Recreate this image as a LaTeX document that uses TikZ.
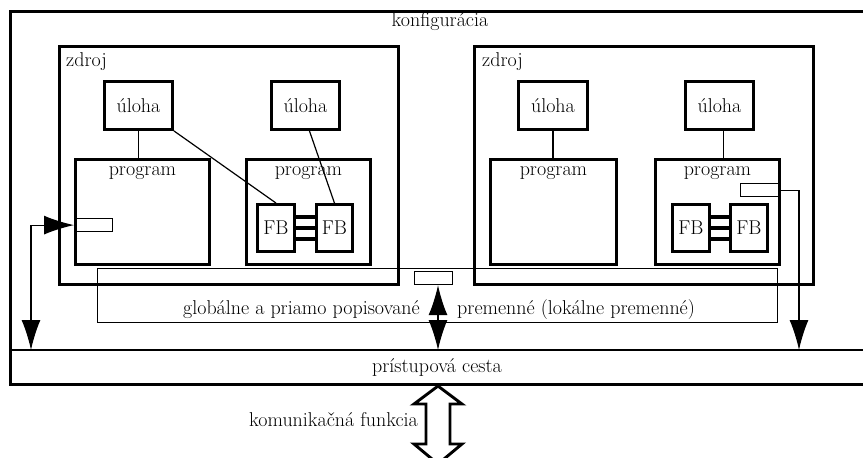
\documentclass[tikz,border=0pt]{standalone}
\usepackage{fontspec}
\usetikzlibrary{arrows.meta,calc}
\tikzset{
  txt/.style={font=\fontsize{20}{24}\selectfont, inner sep=0pt},
  bx/.style={draw, line width=2.9pt, inner sep=0pt, anchor=north west, font=\fontsize{20}{24}\selectfont},
  sbx/.style={draw, line width=1.2pt, inner sep=0pt, anchor=north west},
  ln/.style={line width=1.2pt},
  fbbar/.style={line width=3.4pt},
  arr/.style={line width=1.2pt, -{Latex[length=30pt,width=19pt]}},
  darr/.style={line width=1.2pt, {Latex[length=30pt,width=19pt]}-{Latex[length=30pt,width=19pt]}},
}
\begin{document}
\begin{tikzpicture}[x=1pt,y=-1pt]
\clip (0,0) rectangle (863,458);
% outer configuration
\node[bx, minimum width=870pt, minimum height=373pt] (konf) at (9,10) {};
\node[txt] (konft) at (440,22) {konfigurácia};
% access path
\coordinate (accL) at (9,350);
\coordinate (accR) at (875,350);
\draw[ln] (accL) -- (accR);
\node[txt] (acct) at (437,367) {prístupová cesta};
% global variables box
\node[sbx, minimum width=680pt, minimum height=54pt] (glob) at (97,268) {};
\node[txt, anchor=east] (g1) at (420,310) {globálne a priamo popisované};
\node[txt, anchor=west] (g2) at (457,310) {premenné (lokálne premenné)};
% resources
\node[bx, minimum width=339pt, minimum height=238pt] (z1) at (58,45) {};
\node[bx, minimum width=339pt, minimum height=238pt] (z2) at (473,45) {};
\node[txt, anchor=west] (z1t) at (66,62) {zdroj};
\node[txt, anchor=west] (z2t) at (482,62) {zdroj};
% tasks
\node[bx, minimum width=68pt, minimum height=48pt] (u1) at (103,80) {úloha};
\node[bx, minimum width=68pt, minimum height=48pt] (u2) at (270,80) {úloha};
\node[bx, minimum width=69pt, minimum height=48pt] (u3) at (517,80) {úloha};
\node[bx, minimum width=68pt, minimum height=48pt] (u4) at (684,80) {úloha};
% programs
\node[bx, minimum width=134pt, minimum height=105pt] (p1) at (74,158) {};
\node[bx, minimum width=124pt, minimum height=105pt] (p2) at (245,158) {};
\node[bx, minimum width=126pt, minimum height=105pt] (p3) at (489,158) {};
\node[bx, minimum width=124pt, minimum height=105pt] (p4) at (654,158) {};
\node[txt] (p1t) at ([yshift=-15pt]p1.north) {program};
\node[txt] (p2t) at ([yshift=-15pt]p2.north) {program};
\node[txt] (p3t) at ([yshift=-15pt]p3.north) {program};
\node[txt] (p4t) at ([yshift=-15pt]p4.north) {program};
% function blocks
\node[bx, minimum width=37pt, minimum height=47pt] (f1) at (256,203) {FB};
\node[bx, minimum width=36pt, minimum height=47pt] (f2) at (315,203) {FB};
\node[bx, minimum width=37pt, minimum height=47pt] (f3) at (671,203) {FB};
\node[bx, minimum width=37pt, minimum height=47pt] (f4) at (729,203) {FB};
\foreach \s in {11,0,-11}{
  \draw[fbbar] ([yshift=\s pt]f1.east) -- ([yshift=\s pt]f2.west);
  \draw[fbbar] ([yshift=\s pt]f3.east) -- ([yshift=\s pt]f4.west);
}
% small variable boxes
\node[sbx, minimum width=38pt, minimum height=13pt] (rL) at (74,218) {};
\node[sbx, minimum width=38pt, minimum height=13pt] (rM) at (414,271) {};
\node[sbx, minimum width=38pt, minimum height=13pt] (rR) at (740,183) {};
% task connections
\draw[ln] (u1.south) -- (u1.south |- p1.north);
\draw[ln] (u1.south east) -- (f1.north);
\draw[ln] ([xshift=4pt]u2.south) -- (f2.north);
\draw[ln] (u3.south) -- (u3.south |- p3.north);
\draw[ln] ([xshift=4pt]u4.south) -- ([xshift=4pt]u4.south |- p4.north);
% access arrows
\coordinate (aL) at (31,350);
\coordinate (aM) at (438,350);
\coordinate (aR) at (799,350);
\draw[darr] (rL.west) -| (aL);
\draw[darr] (aM |- rM.south) -- (aM);
\draw[arr] (rR.east) -| (aR);
% communication function
\draw[line width=2.9pt, line join=miter, fill=white] (438,386) -- (414,404) -- (426,404) -- (426,444) -- (414,444) -- (438,464) -- (462,444) -- (450,444) -- (450,404) -- (462,404) -- cycle;
\node[txt, anchor=east] (komt) at (418,420) {komunikačná funkcia};
\end{tikzpicture}
\end{document}
